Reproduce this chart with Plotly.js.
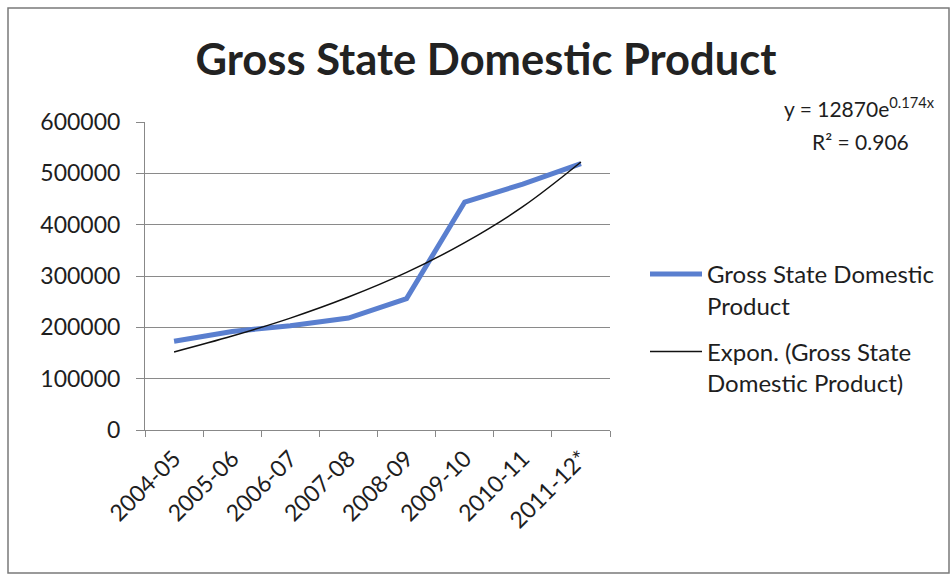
<!DOCTYPE html>
<html>
<head>
<meta charset="utf-8">
<script src="https://cdn.plot.ly/plotly-3.0.1.min.js"></script>
<style>html,body{margin:0;padding:0;background:#fff;}#chart{width:951px;height:579px;}</style>
</head>
<body>
<div id="chart"></div>
<script>
const categories = ['2004-05','2005-06','2006-07','2007-08','2008-09','2009-10','2010-11','2011-12*'];
const gsdpValues = [173000, 192000, 203000, 218000, 256000, 444000, 479000, 519000];
const trendValues = [152000, 183000, 218000, 259000, 307000, 365000, 435000, 522000];
const yTicks = [0, 100000, 200000, 300000, 400000, 500000, 600000];
const seriesName = 'Gross State Domestic<br>Product';
const trendName = 'Expon. (Gross State<br>Domestic Product)';
const titleText = 'Gross State Domestic Product';
const equationText = 'y = 12870e<sup>0.174x</sup>';
const r2Text = 'R² = 0.906';

const W = 951, H = 579;
const L = 145, R = 610, T = 122, B = 430;
const px = v => (v - L) / (R - L);
const py = v => (B - v) / (B - T);
const FONT = 'Lato, "Open Sans", sans-serif';

const traces = [
  {
    x: categories, y: gsdpValues, type: 'scatter', mode: 'lines',
    name: seriesName, legendgroup: 'g1',
    line: {color: '#5a7fcf', width: 5}
  },
  {
    x: categories, y: trendValues, type: 'scatter', mode: 'lines',
    name: trendName, legendgroup: 'g2',
    line: {color: '#111111', width: 1.5, shape: 'spline', smoothing: 1}
  }
];

const layout = {
  width: W, height: H,
  margin: {l: L, r: W - R, t: T, b: H - B, pad: 0},
  paper_bgcolor: '#ffffff', plot_bgcolor: '#ffffff',
  font: {family: FONT, color: '#1e1e1e', size: 22},
  title: {
    text: '<b>' + titleText + '</b>',
    x: 486 / W, xanchor: 'center', xref: 'container',
    y: 1 - 60 / H, yanchor: 'middle', yref: 'container',
    font: {family: FONT, size: 43.5, color: '#222222'}
  },
  xaxis: {
    type: 'category',
    tickangle: -45,
    tickson: 'boundaries',
    ticks: 'outside', ticklen: 6, tickcolor: '#888888',
    ticklabelstandoff: 5,
    showline: true, linecolor: '#888888', linewidth: 1,
    showgrid: false, zeroline: false,
    tickfont: {family: FONT, size: 23, color: '#1e1e1e'},
    range: [-0.5, 7.5]
  },
  yaxis: {
    range: [0, 600000],
    tickvals: yTicks,
    ticktext: yTicks.map(String),
    ticks: 'outside', ticklen: 8, tickcolor: '#888888',
    ticklabelstandoff: 11,
    showline: true, linecolor: '#888888', linewidth: 1,
    showgrid: true, gridcolor: '#8a8a8a', gridwidth: 1,
    zeroline: false,
    tickfont: {family: FONT, size: 23, color: '#1e1e1e'}
  },
  showlegend: true,
  legend: {
    xref: 'container', yref: 'container',
    x: 645 / W, xanchor: 'left',
    y: 1 - 252 / H, yanchor: 'top',
    font: {family: FONT, size: 24, color: '#1e1e1e'},
    bgcolor: 'rgba(0,0,0,0)',
    itemwidth: 52,
    valign: 'top',
    tracegroupgap: 12
  },
  annotations: [
    {xref: 'paper', yref: 'paper', x: px(859), y: py(107), xanchor: 'center', yanchor: 'middle',
     text: equationText, showarrow: false, font: {family: FONT, size: 21, color: '#1e1e1e'}},
    {xref: 'paper', yref: 'paper', x: px(860), y: py(141), xanchor: 'center', yanchor: 'middle',
     text: r2Text, showarrow: false, font: {family: FONT, size: 21, color: '#1e1e1e'}}
  ],
  shapes: [
    {type: 'rect', xref: 'paper', yref: 'paper', x0: px(8), x1: px(949), y0: py(573), y1: py(8),
     line: {color: '#7a7a7a', width: 1.5}, fillcolor: 'rgba(0,0,0,0)', layer: 'below'}
  ]
};

Plotly.newPlot('chart', traces, layout, {displayModeBar: false, staticPlot: true});
</script>
</body>
</html>
